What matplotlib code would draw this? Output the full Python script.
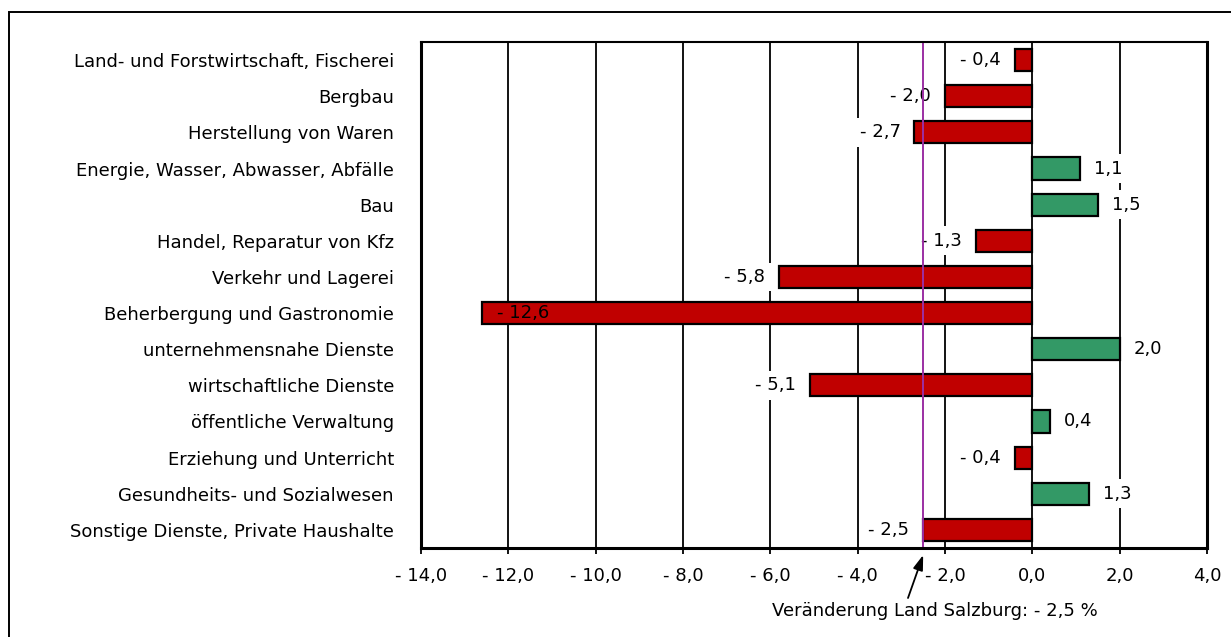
import matplotlib
matplotlib.use("Agg")
import matplotlib.pyplot as plt
from matplotlib.patches import Rectangle

plt.rcParams['font.family'] = ['DejaVu Sans']

categories = [
    "Land- und Forstwirtschaft, Fischerei",
    "Bergbau",
    "Herstellung von Waren",
    "Energie, Wasser, Abwasser, Abfälle",
    "Bau",
    "Handel, Reparatur von Kfz",
    "Verkehr und Lagerei",
    "Beherbergung und Gastronomie",
    "unternehmensnahe Dienste",
    "wirtschaftliche Dienste",
    "öffentliche Verwaltung",
    "Erziehung und Unterricht",
    "Gesundheits- und Sozialwesen",
    "Sonstige Dienste, Private Haushalte",
]
values = [-0.4, -2.0, -2.7, 1.1, 1.5, -1.3, -5.8, -12.6, 2.0, -5.1, 0.4, -0.4, 1.3, -2.5]
total_change = -2.5
x_ticks = [-14, -12, -10, -8, -6, -4, -2, 0, 2, 4]
annotation_text = "Veränderung Land Salzburg: - 2,5 %"

RED = "#C00000"
GREEN = "#339966"
PURPLE = "#9B2FA3"
FS = 13

def fmt(v):
    s = f"{abs(v):.1f}".replace(".", ",")
    return f"- {s}" if v < 0 else s

fig = plt.figure(figsize=(12.31, 6.37), dpi=100)
ax = fig.add_axes([421/1231, 1-548/637, (1207-421)/1231, (548-42)/637])

ypos = list(range(len(categories)))
ax.set_xlim(x_ticks[0], x_ticks[-1])
ax.set_ylim(len(categories) - 0.5, -0.5)

for x in x_ticks[1:-1]:
    ax.axvline(x, color="black", lw=1.3, zorder=1)

colors = [RED if v < 0 else GREEN for v in values]
ax.barh(ypos, values, height=0.61, color=colors, edgecolor="black", linewidth=1.6, zorder=2)

xmin = x_ticks[0]
for y, v in zip(ypos, values):
    if v < 0:
        if v - 2.2 < xmin:
            ax.annotate(fmt(v), (v, y), xytext=(11, 0), textcoords="offset points",
                        ha="left", va="center", fontsize=FS, zorder=4)
        else:
            ax.annotate(fmt(v), (v, y), xytext=(-10, 0), textcoords="offset points",
                        ha="right", va="center", fontsize=FS, zorder=4,
                        bbox=dict(boxstyle="square,pad=0.3", fc="white", ec="none"))
    else:
        ax.annotate(fmt(v), (v, y), xytext=(10, 0), textcoords="offset points",
                    ha="left", va="center", fontsize=FS, zorder=4,
                    bbox=dict(boxstyle="square,pad=0.3", fc="white", ec="none"))

ax.axvline(total_change, color=PURPLE, lw=1.4, zorder=5)

ax.set_yticks(ypos)
ax.set_yticklabels(categories, fontsize=FS)
ax.set_xticks(x_ticks)
ax.set_xticklabels([fmt(t) if t != 0 else "0,0" for t in x_ticks], fontsize=FS)
ax.tick_params(axis="y", length=0, pad=19.5)
ax.tick_params(axis="x", length=4.5, width=1.3, direction="out", pad=9)

for side in ["left", "bottom", "right"]:
    ax.spines[side].set_linewidth(2.2)
ax.spines["top"].set_linewidth(1.5)
for sp in ax.spines.values():
    sp.set_zorder(6)

# annotation text and arrow to the Salzburg total line
fig.text(935/1231, 1-611/637, annotation_text, ha="center", va="center", fontsize=FS)
ax.annotate("", xy=(total_change, -7/506), xycoords=("data", "axes fraction"),
            xytext=(908/1231, 1-598/637), textcoords="figure fraction",
            arrowprops=dict(arrowstyle="-|>,head_length=0.9,head_width=0.3", color="black",
                            lw=1.3, shrinkA=0, shrinkB=0),
            annotation_clip=False)

fig.patches.append(Rectangle((9/1231, -0.1), 1.2, 1-12/637+0.1, transform=fig.transFigure,
                             fill=False, ec="black", lw=1.4))

fig.savefig("out.png", dpi=100, facecolor="white")
